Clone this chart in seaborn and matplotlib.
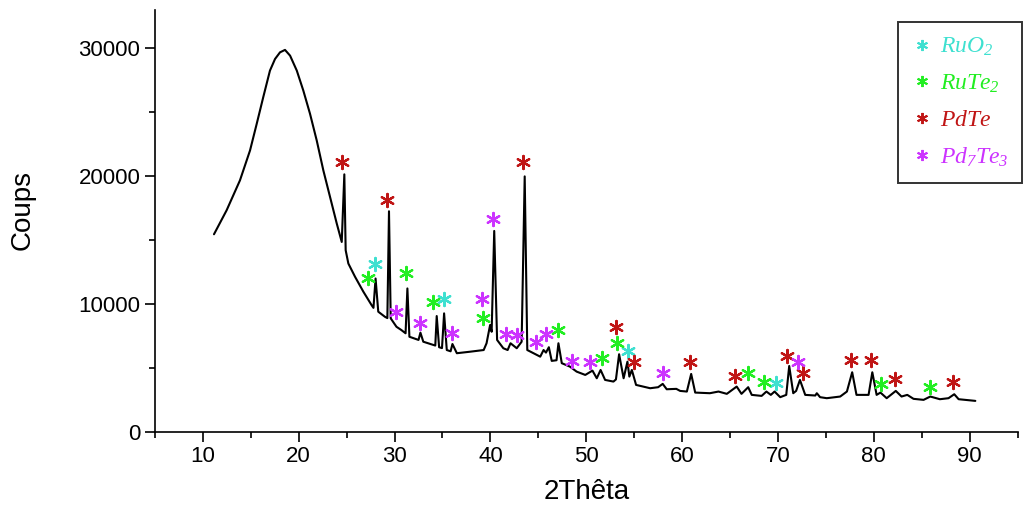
import pandas as pd
import seaborn as sns
import matplotlib.pyplot as plt
from matplotlib.lines import Line2D
from matplotlib.ticker import MultipleLocator

# XRD trace
two_theta = [11.16, 12.48, 13.87, 14.92, 15.62, 16.3, 17.0, 17.53, 18.05, 18.57, 19.1, 19.8, 20.48,
             21.18, 21.88, 22.57, 23.27, 23.97, 24.49, 24.76, 24.9,
             25.18, 25.88, 26.75, 27.6, 27.8, 28.02, 28.3, 29.0, 29.25, 29.42, 29.6, 30.2, 30.7, 31.15,
             31.34, 31.55, 32.5, 32.7, 33.0, 34.05, 34.25, 34.4, 34.65, 34.95, 35.17, 35.45, 35.85, 36.04,
             36.5, 37.9, 39.3, 39.6, 39.97, 40.13, 40.4, 40.7, 41.35, 41.8, 42.1, 42.75, 43.26, 43.58,
             43.85, 45.2, 45.55, 45.8, 46.1, 46.4, 46.9, 47.1, 47.45, 48.3, 49.0, 49.9, 50.65, 51.1,
             51.5, 51.97, 52.84, 53.1, 53.43, 53.9, 54.3, 54.5, 54.76, 55.2, 56.67, 57.5, 57.98, 58.4,
             59.4, 59.8, 60.5, 60.95, 61.37, 62.9, 63.8, 64.67, 65.7, 66.2, 66.9, 67.27, 68.3, 68.8,
             69.26, 69.65, 70.24, 70.87, 71.18, 71.6, 71.9, 72.3, 72.85, 73.9, 74.06, 74.4, 75.1, 76.5,
             77.2, 77.75, 78.2, 79.46, 79.85, 80.3, 80.7, 81.35, 82.3, 82.9, 83.5, 84.15, 85.2, 85.9,
             86.9, 87.8, 88.4, 88.86, 90.6]
counts = [15460, 17340, 19680, 22020, 24110, 26190, 28270, 29180, 29700, 29890, 29440, 28270, 26710,
          24890, 22800, 20460, 18380, 16300, 14860, 20150, 14210,
          13170, 12130, 10960, 9920, 9700, 12000, 9400, 9000, 8900, 17260, 8880, 8220, 7970, 7710,
          11220, 7440, 7190, 7760, 7050, 6800, 6750, 9060, 6620, 6550, 9270, 6400, 6300, 6870,
          6150, 6270, 6400, 6930, 8360, 7830, 15720, 7190, 6540, 6400, 6930, 6540, 7050, 19990,
          6400, 5880, 6400, 6200, 6620, 5550, 5600, 6930, 5370, 5100, 4710, 4450, 4790, 4190,
          4840, 4060, 3930, 4100, 6070, 4190, 5490, 4320, 4840, 3670, 3410, 3490, 3750, 3330,
          3360, 3200, 3150, 4530, 3070, 3020, 3150, 2970, 3540, 2970, 3490, 2890, 2810, 3150,
          2890, 3150, 2710, 2890, 5150, 3020, 3200, 4060, 2890, 2840, 3020, 2710, 2630, 2760,
          3150, 4660, 2890, 2890, 4660, 2890, 3070, 2630, 3200, 2760, 2890, 2580, 2500, 2760,
          2550, 2630, 2940, 2550, 2420]

# phase markers (2theta, counts)
ruo2_x = [27.96, 35.2, 54.4, 69.8]
ruo2_y = [13170, 10360, 6330, 3850]
rute2_x = [27.2, 31.2, 33.96, 39.27, 47.1, 51.6, 53.25, 66.9, 68.6, 80.8, 85.9]
rute2_y = [12000, 12390, 10130, 8880, 7970, 5750, 6930, 4630, 3880, 3750, 3490]
pdte_x = [24.52, 29.2, 43.4, 53.1, 55.0, 60.85, 65.5, 71.0, 72.6, 77.65, 79.7, 82.25, 88.3]
pdte_y = [21110, 18170, 21110, 8180, 5490, 5490, 4370, 5940, 4630, 5620, 5620, 4110, 3930]
pd7te3_x = [30.16, 32.7, 36.04, 39.17, 40.23, 41.6, 42.8, 44.77, 45.8, 48.5, 50.4, 58.0, 72.1]
pd7te3_y = [9400, 8490, 7710, 10360, 16660, 7650, 7580, 7050, 7650, 5570, 5490, 4630, 5440]

phases = ['$RuO_2$', '$RuTe_2$', '$PdTe$', '$Pd_7Te_3$']
colors = ['#3ee0d0', '#22ee22', '#c01515', '#cc33ff']

sns.set_style('ticks')
plt.rcParams['font.family'] = ['Liberation Sans', 'DejaVu Sans']
plt.rcParams['mathtext.fontset'] = 'custom'
plt.rcParams['mathtext.it'] = 'Liberation Serif:italic'
plt.rcParams['mathtext.rm'] = 'Liberation Serif:italic'

df = pd.DataFrame({'two_theta': two_theta, 'counts': counts})
marks = pd.concat([
    pd.DataFrame({'x': xs, 'y': ys, 'phase': p})
    for xs, ys, p in zip([ruo2_x, rute2_x, pdte_x, pd7te3_x],
                         [ruo2_y, rute2_y, pdte_y, pd7te3_y], phases)
])

fig = plt.figure(figsize=(10.33, 5.08), dpi=100)
ax = fig.add_axes([0.150, 0.150, 0.835, 0.830])

sns.lineplot(data=df, x='two_theta', y='counts', color='black', linewidth=1.5,
             estimator=None, sort=False, ax=ax)

star = (6, 2, 0)
for p, c in zip(phases, colors):
    sub = marks[marks['phase'] == p]
    ax.scatter(sub['x'], sub['y'], marker=star, s=90, color=c, linewidths=1.6, zorder=3)

ax.set_xlim(5, 95)
ax.set_ylim(0, 33000)
ax.xaxis.set_minor_locator(MultipleLocator(5))
ax.yaxis.set_major_locator(MultipleLocator(10000))
ax.yaxis.set_minor_locator(MultipleLocator(5000))
ax.set_xticks(range(10, 100, 10))
ax.tick_params(which='major', direction='out', length=7, width=1.2, labelsize=16, colors='black')
ax.tick_params(which='minor', direction='out', length=4.5, width=1.2, colors='black')
sns.despine(ax=ax)
for s in ['left', 'bottom']:
    ax.spines[s].set_linewidth(1.2)
    ax.spines[s].set_color('black')

ax.set_xlabel('2Thêta', fontsize=20, color='black')
ax.set_ylabel('Coups', fontsize=20, color='black')
ax.xaxis.set_label_coords(0.5, -0.112)
ax.yaxis.set_label_coords(-0.138, 0.525)

handles = [Line2D([], [], marker=star, linestyle='none', color=c, markersize=8, markeredgewidth=1.4)
           for c in colors]
leg = ax.legend(handles, phases, loc='upper left', bbox_to_anchor=(0.862, 0.972), fontsize=17,
                frameon=True, fancybox=False, edgecolor='black', handlelength=0.8, handletextpad=0.35,
                labelspacing=0.6, borderpad=0.6, borderaxespad=0)
leg.get_frame().set_linewidth(1.4)
for t, c in zip(leg.get_texts(), colors):
    t.set_color(c)

fig.savefig('out.png', dpi=100)
